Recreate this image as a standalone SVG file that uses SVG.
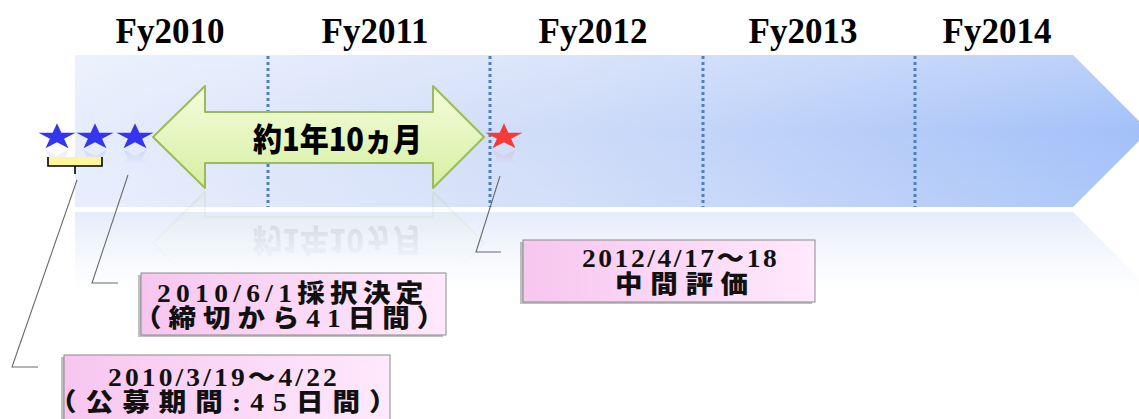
<svg xmlns="http://www.w3.org/2000/svg" xmlns:xlink="http://www.w3.org/1999/xlink" width="1139" height="419" viewBox="0 0 1139 419">
<style>
.year{font-family:"Liberation Serif","Times New Roman",serif;font-weight:bold;font-size:35px;fill:#000;text-anchor:middle}
.boxText{font-family:"Liberation Serif","Noto Sans CJK JP",serif;font-weight:900;font-size:25px;fill:#111}
.arrowText{font-family:"Noto Sans CJK JP","Noto Sans CJK SC",sans-serif;font-weight:900;font-size:32px;fill:#000}
.divider{stroke:#4f7fbf;stroke-width:3;stroke-dasharray:3 3;fill:none}
.leader{stroke:#6a6a6a;stroke-width:1.1;fill:none}
.box{fill:url(#pinkGrad);stroke:#8a8a8a;stroke-width:1}
.boxShadow{fill:#8c8c8c;opacity:0.55}
</style>
<defs>
<linearGradient id="bandGrad" x1="0" y1="0" x2="1" y2="0">
<stop offset="0" stop-color="#e6edfc"/>
<stop offset="0.45" stop-color="#cfdcf8"/>
<stop offset="1" stop-color="#a2c0f8"/>
</linearGradient>
<linearGradient id="bandSheen" x1="0" y1="0" x2="0" y2="1">
<stop offset="0" stop-color="#ffffff" stop-opacity="0.25"/>
<stop offset="0.5" stop-color="#ffffff" stop-opacity="0"/>
<stop offset="1" stop-color="#ffffff" stop-opacity="0.1"/>
</linearGradient>
<linearGradient id="reflGrad" x1="0" y1="0" x2="0" y2="1">
<stop offset="0" stop-color="#dde7fa" stop-opacity="0.8"/>
<stop offset="0.5" stop-color="#eaf0fb" stop-opacity="0.45"/>
<stop offset="1" stop-color="#ffffff" stop-opacity="0"/>
</linearGradient>
<linearGradient id="greenGrad" x1="0" y1="0" x2="0" y2="1">
<stop offset="0" stop-color="#f4fcdc"/>
<stop offset="1" stop-color="#d6efa2"/>
</linearGradient>
<linearGradient id="pinkGrad" x1="0" y1="0" x2="1" y2="0">
<stop offset="0" stop-color="#f7c6ef"/>
<stop offset="1" stop-color="#ffe9fc"/>
</linearGradient>
<linearGradient id="fadeGrad" x1="0" y1="0" x2="0" y2="1">
<stop offset="0" stop-color="#555"/>
<stop offset="1" stop-color="#000"/>
</linearGradient>
<mask id="arrowFade" maskUnits="userSpaceOnUse" x="0" y="190" width="1139" height="80">
<rect x="0" y="190" width="1139" height="80" fill="url(#fadeGrad)"/>
</mask>
<mask id="starFade" maskUnits="userSpaceOnUse" x="0" y="148" width="600" height="16">
<rect x="0" y="148" width="600" height="16" fill="url(#fadeGrad)"/>
</mask>
<path id="star" d="M0,-19.5 L4.38,-6.03 L18.55,-6.03 L7.08,2.3 L11.47,15.78 L0,7.45 L-11.47,15.78 L-7.08,2.3 L-18.55,-6.03 L-4.38,-6.03 Z"/>
</defs>

<rect width="1139" height="419" fill="#ffffff"/>

<g id="timeline">
<polygon points="75,212 1073,212 1149,288 1149,305 75,305" fill="url(#reflGrad)"/>
<polygon points="75,55 1073,55 1149,131 1073,207 75,207" fill="url(#bandGrad)"/>
<polygon points="75,55 1073,55 1149,131 1073,207 75,207" fill="url(#bandSheen)"/>
<line class="divider" x1="268" y1="56" x2="268" y2="207"/>
<line class="divider" x1="490" y1="56" x2="490" y2="207"/>
<line class="divider" x1="703" y1="56" x2="703" y2="207"/>
<line class="divider" x1="915" y1="56" x2="915" y2="207"/>
</g>

<g id="years">
<text class="year" x="170" y="43">Fy2010</text>
<text class="year" x="375" y="43">Fy2011</text>
<text class="year" x="593" y="43">Fy2012</text>
<text class="year" x="803" y="43">Fy2013</text>
<text class="year" x="997" y="43">Fy2014</text>
</g>

<g id="arrowReflection" mask="url(#arrowFade)" opacity="0.45">
<use xlink:href="#durationArrow" href="#durationArrow" transform="translate(0,380) scale(1,-1)"/>
</g>

<g id="durationArrow">
<polygon points="153,137 205,86 205,112 433,112 433,86 484,137 433,188 433,163 205,163 205,188" fill="url(#greenGrad)" stroke="#9bbb59" stroke-width="2" stroke-linejoin="round"/>
<text class="arrowText" x="253" y="151" textLength="169" lengthAdjust="spacingAndGlyphs">約1年10ヵ月</text>
</g>

<g id="stars">
<g mask="url(#starFade)" opacity="0.4">
<use href="#star" xlink:href="#star" transform="translate(57,161) scale(1,-0.71)" fill="#3a3af0"/>
<use href="#star" xlink:href="#star" transform="translate(95,161) scale(1,-0.71)" fill="#3a3af0"/>
<use href="#star" xlink:href="#star" transform="translate(135,161) scale(1,-0.71)" fill="#3a3af0"/>
<use href="#star" xlink:href="#star" transform="translate(504,161) scale(1,-0.71)" fill="#f03a3a"/>
</g>
<use id="star1" href="#star" xlink:href="#star" transform="translate(57,137) scale(1,0.71)" fill="#3535ef"/>
<use id="star2" href="#star" xlink:href="#star" transform="translate(95,137) scale(1,0.71)" fill="#3535ef"/>
<use id="star3" href="#star" xlink:href="#star" transform="translate(135,137) scale(1,0.71)" fill="#3535ef"/>
<use id="starRed" href="#star" xlink:href="#star" transform="translate(504,137) scale(1,0.71)" fill="#f53a3a"/>
</g>

<g id="bracket">
<rect x="48" y="157" width="54" height="9" fill="#fff59a"/>
<path d="M48,157 V166 H102 V157 M75,166 V174" fill="none" stroke="#000" stroke-width="1.6"/>
</g>

<g id="connectors">
<path class="leader" d="M77,180 L12,367 L38,367"/>
<path class="leader" d="M128,175 L92,283 L118,283"/>
<path class="leader" d="M500,176 L476,252 L501,252"/>
</g>

<g id="boxDecision">
<rect class="boxShadow" x="138" y="275" width="305" height="62"/>
<rect class="box" x="141" y="273" width="305" height="62"/>
<text class="boxText" transform="translate(157,302) scale(1.1,1)" textLength="242" lengthAdjust="spacing">2010/6/1採択決定</text>
<text class="boxText" transform="translate(134,327) scale(1.1,1)" textLength="282" lengthAdjust="spacing">（締切から41日間）</text>
</g>

<g id="boxCall">
<rect class="boxShadow" x="61" y="357" width="327" height="66"/>
<rect class="box" x="64" y="355" width="326" height="66"/>
<text class="boxText" transform="translate(108,386) scale(1.1,1)" textLength="208" lengthAdjust="spacing">2010/3/19〜4/22</text>
<text class="boxText" transform="translate(49,411) scale(1.1,1)" textLength="316" lengthAdjust="spacing">（公募期間:45日間）</text>
</g>

<g id="boxMidterm">
<rect class="boxShadow" x="520" y="242" width="292" height="62"/>
<rect class="box" x="523" y="240" width="292" height="62"/>
<text class="boxText" transform="translate(582,267) scale(1.1,1)" textLength="177" lengthAdjust="spacing">2012/4/17〜18</text>
<text class="boxText" transform="translate(615,293) scale(1.1,1)" textLength="121" lengthAdjust="spacing">中間評価</text>
</g>
</svg>
